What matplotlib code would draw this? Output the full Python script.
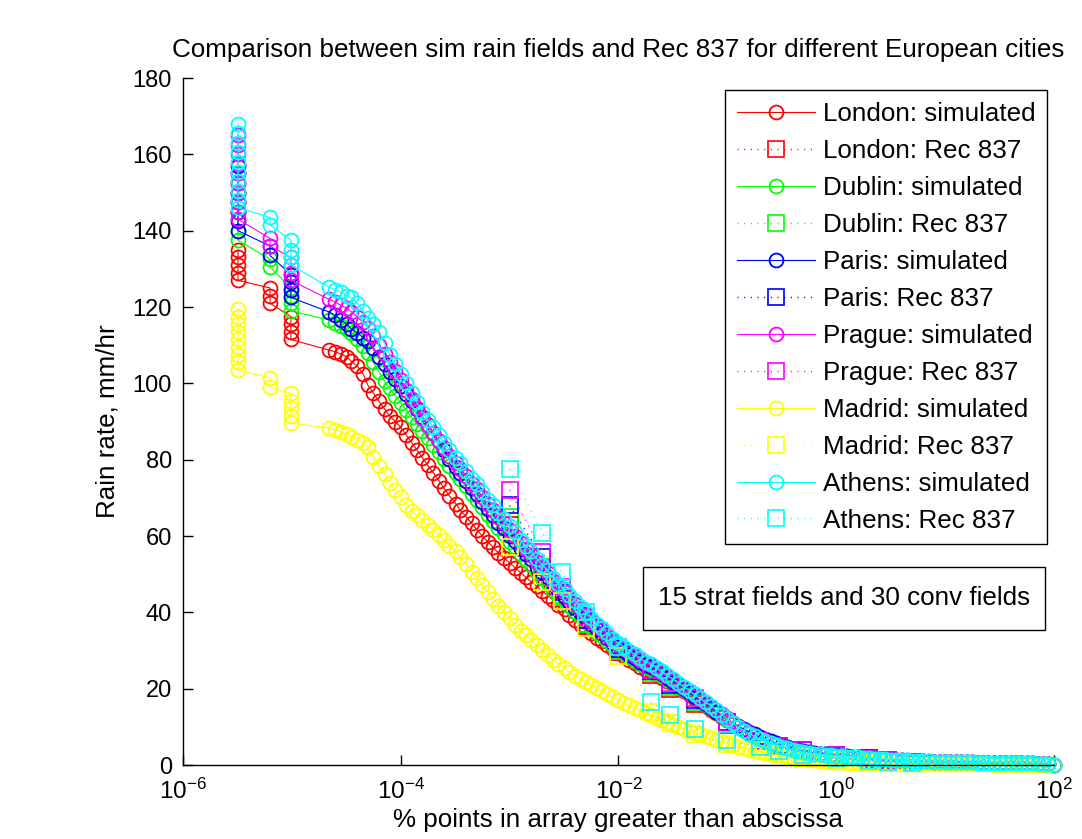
import matplotlib
matplotlib.use("Agg")
import matplotlib.pyplot as plt
import numpy as np
from matplotlib.patches import Rectangle
from matplotlib.ticker import NullLocator

plt.rcParams['font.family'] = ['Liberation Sans', 'DejaVu Sans']
plt.rcParams['mathtext.default'] = 'regular'

# exceedance levels (% of points) at which the simulated curves were read
P_SIM = [2.5e-5, 2.8e-5, 3.2e-5, 3.5e-5, 4.0e-5, 4.5e-5, 5.0e-5, 5.6e-5, 6.3e-5, 7.1e-5, 7.9e-5, 8.9e-5, 1.0e-4,
         1.12e-4, 1.26e-4, 1.41e-4, 1.58e-4, 1.78e-4, 2.0e-4, 2.24e-4, 2.5e-4, 2.8e-4, 3.2e-4,
         3.5e-4, 4.0e-4, 4.5e-4, 5.0e-4, 5.6e-4, 6.3e-4, 7.1e-4, 7.9e-4, 8.9e-4, 1.0e-3,
         1.12e-3, 1.26e-3, 1.41e-3, 1.58e-3, 1.78e-3, 2.0e-3, 2.24e-3, 2.5e-3, 2.8e-3, 3.2e-3,
         3.5e-3, 4.0e-3, 4.5e-3, 5.0e-3, 5.6e-3, 6.3e-3, 7.1e-3, 7.9e-3, 8.9e-3, 0.01,
         0.0112, 0.0126, 0.0141, 0.0158, 0.0178, 0.02, 0.0224, 0.025, 0.028, 0.032,
         0.0355, 0.04, 0.045, 0.05, 0.056, 0.063, 0.071, 0.079, 0.089, 0.1,
         0.112, 0.126, 0.141, 0.158, 0.178, 0.2, 0.224, 0.25, 0.28, 0.32,
         0.355, 0.4, 0.45, 0.5, 0.56, 0.63, 0.71, 0.79, 0.89, 1.0,
         1.12, 1.26, 1.41, 1.58, 1.78, 2.0, 2.24, 2.5, 2.8, 3.2,
         3.55, 4.0, 4.5, 5.0, 5.6, 6.3, 7.1, 7.9, 8.9, 10,
         11.2, 12.6, 14.1, 15.8, 17.8, 20, 22.4, 25, 28, 32,
         35.5, 40, 45, 50, 56, 63, 71, 79, 89, 100]

# rain rate (mm/hr) of each simulated curve at P_SIM
LONDON_SIM = [108.3, 107.7, 107, 105.8, 104.5, 102.5, 99.5, 97.5, 95.3, 93.3, 91.5, 90, 88.5,
              86.5, 84.5, 82.5, 80.5, 78.5, 76.5, 74.5, 72.5, 70.5, 68.5,
              66.8, 65, 63.3, 61.7, 60, 58.5, 57, 55.5, 54.2, 53,
              51.7, 50.4, 49.2, 48, 46.8, 45.6, 44.4, 43.2, 42, 40.8,
              39.2, 38, 36.8, 35.6, 34.5, 33.4, 32.4, 31.4, 30.4, 29.4,
              28.5, 27.6, 26.7, 25.8, 25, 24.5, 23.6, 22.7, 21.9, 21.2,
              20.2, 19.3, 18.3, 17.4, 16.4, 15.5, 14.5, 13.6, 12.6, 11.7,
              10.8, 9.9, 9.1, 8.4, 7.7, 7.0, 6.5, 6.0, 5.5, 5.1,
              4.6, 4.1, 3.8, 3.5, 3.25, 3.0, 2.85, 2.75, 2.6, 2.5,
              2.35, 2.2, 2.07, 1.95, 1.82, 1.7, 1.6, 1.5, 1.4, 1.3,
              1.22, 1.15, 1.07, 1.0, 0.95, 0.9, 0.85, 0.8, 0.78, 0.75,
              0.72, 0.7, 0.68, 0.65, 0.62, 0.6, 0.58, 0.55, 0.52, 0.5,
              0.48, 0.45, 0.42, 0.4, 0.38, 0.35, 0.3, 0.25, 0.15, 0.0]
DUBLIN_SIM = [115.8, 115, 114.2, 113.2, 111.7, 109.8, 108, 105.5, 103, 100.5, 98.7, 96.8, 94.9,
              93, 91.2, 89.3, 87.5, 85.7, 83.8, 82, 80.2, 78.4, 76.6,
              75, 73, 71, 69.5, 67.5, 65.5, 64, 62, 60.5, 58.5,
              57.1, 55.2, 53.8, 52.4, 50.5, 49.1, 47.7, 45.8, 44.4, 43,
              41.6, 40.2, 38.9, 37.5, 36.1, 34.7, 33.8, 32.5, 31.1, 30.2,
              29.3, 28.4, 27.4, 26.5, 25.6, 25.2, 24.3, 23.3, 22.4, 21.5,
              20.5, 19.6, 18.6, 17.7, 16.7, 15.8, 14.8, 13.8, 12.8, 11.9,
              10.9, 10.0, 9.2, 8.5, 7.8, 7.1, 6.6, 6.2, 5.7, 5.2,
              4.7, 4.2, 3.9, 3.6, 3.35, 3.1, 2.95, 2.85, 2.7, 2.6,
              2.45, 2.3, 2.15, 2.0, 1.87, 1.75, 1.65, 1.55, 1.45, 1.35,
              1.27, 1.2, 1.12, 1.05, 1.0, 0.95, 0.9, 0.85, 0.82, 0.8,
              0.78, 0.75, 0.72, 0.7, 0.68, 0.65, 0.62, 0.6, 0.58, 0.55,
              0.52, 0.5, 0.48, 0.45, 0.42, 0.4, 0.35, 0.3, 0.2, 0.0]
PARIS_SIM = [117.8, 116.7, 115.5, 114.3, 113.2, 112, 111, 109.3, 107, 105, 103, 101.1, 99.3,
             97.3, 95.3, 93.2, 91.2, 89.2, 87, 84.8, 82.5, 80.2, 78,
             76.5, 74.5, 72.5, 71, 69, 67, 65.5, 63.5, 62, 60,
             58.6, 56.7, 55.3, 53.9, 52, 50.6, 49.2, 47.3, 45.9, 44,
             42.6, 41.2, 39.8, 38.4, 37, 35.6, 34.7, 33.3, 31.9, 30.8,
             29.9, 28.9, 28, 27.1, 26.1, 25.7, 24.8, 23.8, 22.9, 21.8,
             20.9, 19.9, 18.9, 17.9, 17.0, 16.0, 15.0, 14.0, 13.0, 12.1,
             11.1, 10.2, 9.4, 8.7, 8.0, 7.3, 6.8, 6.3, 5.8, 5.3,
             4.8, 4.3, 3.95, 3.65, 3.4, 3.15, 3.0, 2.9, 2.75, 2.6,
             2.45, 2.3, 2.15, 2.0, 1.87, 1.75, 1.65, 1.55, 1.45, 1.35,
             1.27, 1.2, 1.12, 1.05, 1.0, 0.95, 0.9, 0.85, 0.82, 0.8,
             0.78, 0.75, 0.72, 0.7, 0.68, 0.65, 0.62, 0.6, 0.58, 0.55,
             0.52, 0.5, 0.48, 0.45, 0.42, 0.4, 0.35, 0.3, 0.2, 0.0]
PRAGUE_SIM = [121.3, 120.5, 119.7, 118.8, 117.4, 116, 114.5, 112.5, 110, 107.8, 105.5, 103.3, 101,
              98.3, 96, 93.5, 91, 89, 87, 85, 83, 81, 79,
              77.6, 75.6, 73.7, 72.3, 70.3, 68.3, 66.9, 64.9, 63.5, 61.5,
              60, 58.1, 56.6, 55.1, 53.1, 51.6, 50.2, 48.2, 46.7, 45.2,
              43.7, 42.3, 40.8, 39.3, 37.8, 36.4, 35.4, 33.9, 32.5, 31.5,
              30.5, 29.6, 28.6, 27.6, 26.6, 26.1, 25.2, 24.2, 23.2, 22.2,
              21.2, 20.3, 19.3, 18.3, 17.3, 16.3, 15.3, 14.3, 13.3, 12.2,
              11.1, 10.0, 9.1, 8.3, 7.5, 6.8, 6.2, 5.7, 5.2, 4.8,
              4.4, 4.0, 3.7, 3.4, 3.15, 2.95, 2.8, 2.65, 2.5, 2.4,
              2.3, 2.2, 2.1, 2.0, 1.9, 1.8, 1.7, 1.6, 1.5, 1.4,
              1.32, 1.25, 1.18, 1.1, 1.05, 1.0, 0.95, 0.9, 0.85, 0.8,
              0.78, 0.75, 0.72, 0.7, 0.68, 0.65, 0.62, 0.6, 0.58, 0.55,
              0.52, 0.5, 0.48, 0.45, 0.42, 0.4, 0.35, 0.3, 0.2, 0.0]
MADRID_SIM = [87.8, 87.3, 86.6, 86, 85.2, 84.4, 83.4, 80.7, 78.3, 76.2, 74, 72, 70.1,
              68.2, 66.6, 65.4, 64.1, 62.8, 61.6, 60.3, 58.9, 57.5, 56,
              54.4, 52.6, 50.7, 48.9, 47.1, 45.3, 43.5, 41.7, 40.1, 38.5,
              36.8, 35.2, 34, 32.7, 31.4, 30.1, 28.8, 27.6, 26.5, 25.4,
              24.4, 23.4, 22.6, 21.8, 21, 20.2, 19.4, 18.6, 17.8, 17,
              16.3, 15.6, 14.9, 14.3, 13.6, 13, 12.4, 11.8, 11.2, 10.6,
              10.0, 9.5, 9.0, 8.5, 8.0, 7.5, 7.0, 6.5, 6.0, 5.6,
              5.2, 4.8, 4.4, 4.0, 3.7, 3.4, 3.1, 2.8, 2.55, 2.3,
              2.1, 1.9, 1.7, 1.5, 1.35, 1.2, 1.1, 1.0, 0.9, 0.8,
              0.7, 0.6, 0.55, 0.5, 0.47, 0.45, 0.42, 0.4, 0.37, 0.35,
              0.32, 0.3, 0.3, 0.3, 0.27, 0.25, 0.25, 0.25, 0.22, 0.2,
              0.2, 0.2, 0.2, 0.2, 0.17, 0.15, 0.15, 0.15, 0.12, 0.1,
              0.1, 0.1, 0.1, 0.1, 0.07, 0.05, 0.05, 0.05, 0.02, 0.0]
ATHENS_SIM = [124.5, 124, 123, 122.5, 121, 119, 117, 115.5, 113.5, 110.5, 107.5, 105, 102.5,
              100, 97.5, 95, 92.5, 90.5, 88.5, 86.5, 84.5, 82.5, 80.5,
              79, 77, 75, 73.5, 71.5, 69.5, 68, 66, 64.5, 62.5,
              61, 59, 57.5, 56, 54, 52.5, 51, 49, 47.5, 46,
              44.5, 43, 41.5, 40, 38.5, 37, 36, 34.5, 33, 32,
              31, 30, 29, 28, 27, 26.5, 25.5, 24.5, 23.5, 22.5,
              21.5, 20.5, 19.5, 18.5, 17.5, 16.5, 15.5, 14.4, 13.2, 12.0,
              11.0, 9.9, 9.0, 8.2, 7.5, 6.8, 6.2, 5.7, 5.2, 4.8,
              4.4, 4.0, 3.7, 3.4, 3.15, 2.95, 2.8, 2.65, 2.5, 2.4,
              2.3, 2.2, 2.1, 2.0, 1.9, 1.8, 1.7, 1.6, 1.5, 1.4,
              1.32, 1.25, 1.18, 1.1, 1.05, 1.0, 0.95, 0.9, 0.85, 0.8,
              0.78, 0.75, 0.72, 0.7, 0.68, 0.65, 0.62, 0.6, 0.58, 0.55,
              0.52, 0.5, 0.48, 0.45, 0.42, 0.4, 0.35, 0.3, 0.2, 0.0]

# the rarest exceedances (1, 2, 3 ... points) stack up at the left
LONDON_TOP_P = [3.2e-6, 3.2e-6, 3.2e-6, 3.2e-6, 3.2e-6, 6.3e-6, 6.3e-6, 6.3e-6,
                9.8e-6, 9.8e-6, 9.8e-6, 9.8e-6, 2.2e-5]
LONDON_TOP_R = [135, 133, 131, 129, 127, 125, 123, 121, 117.5, 115.5, 113.5, 111.5, 108.7]
DUBLIN_TOP_P = [3.2e-6, 3.2e-6, 3.2e-6, 3.2e-6, 3.2e-6, 3.2e-6, 6.3e-6, 6.3e-6,
                9.8e-6, 9.8e-6, 9.8e-6, 9.8e-6, 2.2e-5]
DUBLIN_TOP_R = [150, 147.5, 145, 142.5, 140, 137.5, 132.5, 130.5, 125, 123, 121, 119, 116.6]
PARIS_TOP_P = [3.2e-6, 3.2e-6, 3.2e-6, 3.2e-6, 3.2e-6, 3.2e-6, 3.2e-6, 3.2e-6, 6.3e-6, 6.3e-6,
               9.8e-6, 9.8e-6, 9.8e-6, 9.8e-6, 2.2e-5]
PARIS_TOP_R = [157, 155, 152.5, 150, 147.5, 145, 142.5, 140, 136, 133.5, 128.5, 126.5, 124.5, 122.5, 118.7]
PRAGUE_TOP_P = [3.2e-6, 3.2e-6, 3.2e-6, 3.2e-6, 3.2e-6, 3.2e-6, 3.2e-6, 3.2e-6, 3.2e-6, 3.2e-6,
                6.3e-6, 6.3e-6, 9.8e-6, 9.8e-6, 9.8e-6, 9.8e-6, 2.2e-5]
PRAGUE_TOP_R = [165, 162.5, 160, 157.5, 155, 152.5, 150, 147.5, 145, 143, 138, 136, 133, 131, 129, 127, 122]
MADRID_TOP_P = [3.2e-6, 3.2e-6, 3.2e-6, 3.2e-6, 3.2e-6, 3.2e-6, 3.2e-6, 3.2e-6, 3.2e-6,
                6.3e-6, 6.3e-6, 9.8e-6, 9.8e-6, 9.8e-6, 9.8e-6, 9.8e-6, 2.2e-5]
MADRID_TOP_R = [119.5, 117.5, 115.5, 113.5, 111.5, 109.5, 107.5, 105.5, 103.5, 101.4, 99,
                97.4, 95.5, 93.5, 91.5, 89.6, 88.3]
ATHENS_TOP_P = [3.2e-6, 3.2e-6, 3.2e-6, 3.2e-6, 3.2e-6, 3.2e-6, 3.2e-6, 3.2e-6, 3.2e-6, 3.2e-6,
                6.3e-6, 6.3e-6, 9.8e-6, 9.8e-6, 9.8e-6, 9.8e-6, 2.2e-5]
ATHENS_TOP_R = [168, 165.5, 163, 160.5, 158, 155.5, 153, 150.5, 148, 146, 143.5, 141.5,
                137.5, 135, 133, 131, 125.2]

# ITU-R Rec 837 rain rates
REC_P = [0.001, 0.002, 0.003, 0.005, 0.01, 0.02, 0.03, 0.05, 0.1, 0.2, 0.3, 0.5, 1, 2, 3, 5]
LONDON_REC = [63, 50.5, 43, 36.4, 29.5, 23.5, 20, 16, 10.5, 6.2, 5, 3.8, 2.5, 1.6, 1.2, 0.8]
DUBLIN_REC = [65, 52, 44, 37, 30, 24, 20.5, 16.5, 11, 6.4, 5.1, 3.9, 2.6, 1.7, 1.25, 0.8]
PARIS_REC = [68, 54.5, 45.3, 38, 30.5, 24.5, 21, 17, 11.2, 6.3, 5.0, 3.9, 2.6, 1.8, 1.3, 0.85]
PRAGUE_REC = [72, 55.8, 46.7, 38.8, 31, 25, 21.5, 17.5, 11, 6.2, 4.9, 3.8, 2.5, 1.7, 1.2, 0.8]
MADRID_REC = [57, 48, 43, 36, 28.5, 14, 11, 8, 5.5, 3.8, 3, 2.2, 1.4, 0.9, 0.6, 0.4]
ATHENS_REC = [77.5, 60.8, 50.6, 40, 31, 16.5, 13, 9.5, 6.5, 4.6, 3.6, 2.7, 1.8, 1.1, 0.8, 0.5]

cities = [
    ("London", "#ff0000", LONDON_TOP_P, LONDON_TOP_R, LONDON_SIM, LONDON_REC),
    ("Dublin", "#00ff00", DUBLIN_TOP_P, DUBLIN_TOP_R, DUBLIN_SIM, DUBLIN_REC),
    ("Paris", "#0000ff", PARIS_TOP_P, PARIS_TOP_R, PARIS_SIM, PARIS_REC),
    ("Prague", "#ff00ff", PRAGUE_TOP_P, PRAGUE_TOP_R, PRAGUE_SIM, PRAGUE_REC),
    ("Madrid", "#ffff00", MADRID_TOP_P, MADRID_TOP_R, MADRID_SIM, MADRID_REC),
    ("Athens", "#00ffff", ATHENS_TOP_P, ATHENS_TOP_R, ATHENS_SIM, ATHENS_REC),
]

fig = plt.figure(figsize=(10.82, 8.39), dpi=100)
ax = fig.add_axes([0.1691, 0.0882, 0.805, 0.8188])

for name, col, top_p, top_r, sim, rec in cities:
    ax.plot(np.concatenate([top_p, P_SIM]), np.concatenate([top_r, sim]), '-o', color=col,
            mfc='none', ms=10, mew=1.3, lw=0.8, clip_on=False, label=name + ": simulated")
    ax.plot(REC_P, rec, linestyle=(0, (0.8, 4)), marker='s', color=col,
            mfc='none', ms=11, mew=1.2, lw=1.0, clip_on=False, label=name + ": Rec 837")

ax.set_xscale('log')
ax.set_xlim(1e-6, 1e2)
ax.set_ylim(0, 180)
ax.set_xticks([1e-6, 1e-4, 1e-2, 1e0, 1e2])
ax.set_xticklabels([r'$10^{-6}$', r'$10^{-4}$', r'$10^{-2}$', r'$10^{0}$', r'$10^{2}$'])
ax.xaxis.set_minor_locator(NullLocator())
ax.set_yticks(np.arange(0, 181, 20))
ax.tick_params(direction='in', length=7, width=1)
ax.tick_params(axis='y', labelsize=17, pad=8)
ax.tick_params(axis='x', labelsize=17.5, pad=10)
for s in ['top', 'right']:
    ax.spines[s].set_visible(False)
for s in ['left', 'bottom']:
    ax.spines[s].set_linewidth(1.0)

ax.set_title("Comparison between sim rain fields and Rec 837 for different European cities",
             fontsize=18.7, pad=15)
ax.set_xlabel("% points in array greater than abscissa", fontsize=18.7)
ax.xaxis.set_label_coords(0.5, -0.063)
ax.set_ylabel("Rain rate, mm/hr", fontsize=18.7, labelpad=9)

leg = ax.legend(loc='upper right', bbox_to_anchor=(0.992, 0.9825), fontsize=18.7, frameon=True,
                fancybox=False, edgecolor='black', framealpha=1, borderaxespad=0,
                handlelength=3.0, handletextpad=0.3, labelspacing=0.5, borderpad=0.45, numpoints=1)
leg.get_frame().set_linewidth(1.0)

ax.add_patch(Rectangle((0.528, 0.1965), 0.4617, 0.0917, transform=ax.transAxes,
                       facecolor='white', edgecolor='black', lw=1.0, zorder=5, clip_on=False))
ax.text(0.7589, 0.2424, "15 strat fields and 30 conv fields", transform=ax.transAxes,
        ha='center', va='center', fontsize=18.7, zorder=6)

fig.savefig("out.png", dpi=100)
